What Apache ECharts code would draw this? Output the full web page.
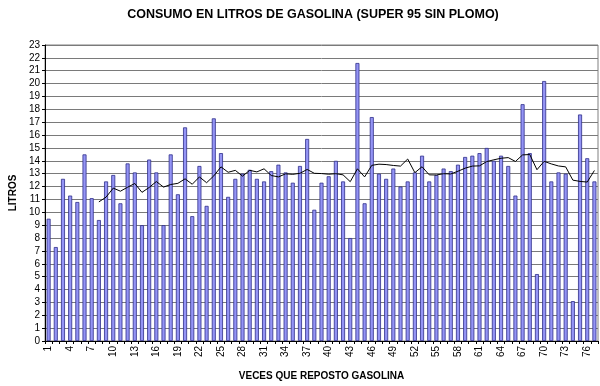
<!DOCTYPE html>
<html>
<head>
<meta charset="utf-8">
<script src="https://cdn.jsdelivr.net/npm/echarts@6/dist/echarts.min.js"></script>
<style>
html,body{margin:0;padding:0;background:#fff;}
#c{width:600px;height:386px;}
</style>
</head>
<body>
<div id="c"></div>
<script>
var categories = [];
for (var i = 1; i <= 77; i++) categories.push(String(i));

var litros = [9.5,7.3,12.6,11.3,10.8,14.5,11.1,9.4,12.4,12.9,
  10.7,13.8,13.1,9.0,14.1,13.1,9.0,14.5,11.4,16.6,
  9.7,13.6,10.5,17.3,14.6,11.2,12.6,13.0,13.3,12.6,
  12.4,13.2,13.7,13.1,12.3,13.6,15.7,10.2,12.3,12.8,
  14.0,12.4,8.0,21.6,10.7,17.4,13.0,12.6,13.4,12.0,
  12.4,13.1,14.4,12.4,12.9,13.4,13.2,13.7,14.3,14.4,
  14.6,15.0,14.0,14.4,13.6,11.3,18.4,14.6,5.2,20.2,
  12.4,13.1,13.0,3.1,17.6,14.2,12.4];

var tendencia = [null,null,null,null,null,null,null,10.81,11.18,11.88,
  11.64,11.95,12.24,11.55,11.93,12.39,11.96,12.16,12.25,12.6,
  12.18,12.75,12.3,12.83,13.53,13.11,13.26,12.81,13.26,13.14,
  13.38,12.86,12.75,12.99,12.95,13.03,13.33,13.03,13.01,12.96,
  13.0,12.91,12.38,13.38,12.75,13.65,13.74,13.71,13.64,13.59,
  14.14,13.08,13.54,12.91,12.9,13.0,12.98,13.19,13.43,13.59,
  13.61,13.94,14.08,14.2,14.25,13.95,14.46,14.49,13.31,13.96,
  13.76,13.6,13.53,12.5,12.4,12.35,13.25];

var yTicks = {min: 0, max: 23, interval: 1};

var chart = echarts.init(document.getElementById('c'), null, {renderer: 'canvas'});
chart.setOption({
  animation: false,
  backgroundColor: '#ffffff',
  title: {
    text: 'CONSUMO EN LITROS DE GASOLINA (SUPER 95 SIN PLOMO)',
    left: 308, top: 3, textAlign: 'center',
    textStyle: {fontFamily: 'Liberation Sans, Arial', fontSize: 12.5, fontWeight: 'bold', color: '#000'}
  },
  grid: {left: 37, right: 2, top: 45, bottom: 39, show: true, borderColor: '#808080', borderWidth: 1, backgroundColor: '#ffffff'},
  xAxis: {
    type: 'category',
    data: categories,
    boundaryGap: true,
    name: 'VECES QUE REPOSTO GASOLINA',
    nameLocation: 'middle',
    nameGap: 30,
    nameTextStyle: {fontFamily: 'Liberation Sans, Arial', fontSize: 10, fontWeight: 'bold', color: '#000'},
    axisLine: {lineStyle: {color: '#000', width: 1}},
    axisTick: {show: true, interval: 0, length: 3, lineStyle: {color: '#000'}},
    axisLabel: {interval: 2, rotate: 90, fontFamily: 'Liberation Sans, Arial', fontSize: 10, color: '#000', margin: 5},
    splitLine: {show: false}
  },
  yAxis: {
    type: 'value',
    min: yTicks.min, max: yTicks.max, interval: yTicks.interval,
    name: 'LITROS',
    nameLocation: 'middle',
    nameGap: 23,
    nameTextStyle: {fontFamily: 'Liberation Sans, Arial', fontSize: 10, fontWeight: 'bold', color: '#000'},
    axisLine: {show: true, lineStyle: {color: '#000', width: 1}},
    axisTick: {show: true, length: 3, lineStyle: {color: '#000'}},
    axisLabel: {fontFamily: 'Liberation Sans, Arial', fontSize: 10, color: '#000', margin: 5},
    splitLine: {show: true, lineStyle: {color: '#7a7a7a', width: 1}}
  },
  series: [
    {
      type: 'bar',
      data: litros,
      barWidth: 4,
      itemStyle: {color: '#9494f5', borderColor: '#2e2e8a', borderWidth: 0.8}
    },
    {
      type: 'line',
      data: tendencia,
      showSymbol: false,
      symbol: 'none',
      connectNulls: false,
      lineStyle: {color: '#000', width: 1},
      z: 5
    }
  ]
});
</script>
</body>
</html>
